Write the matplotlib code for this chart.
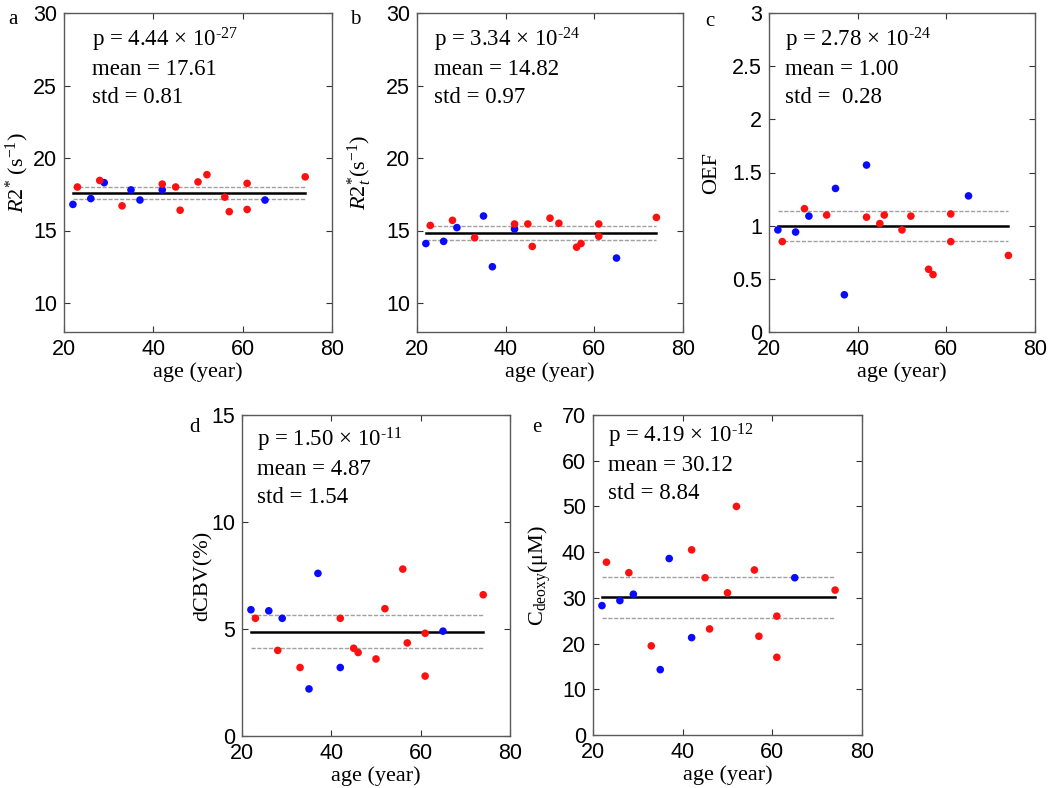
#!/usr/bin/env python3

import matplotlib
matplotlib.use("Agg")
import matplotlib.pyplot as plt

# subject ages (blue / red groups)
blue_age = [22, 26, 29, 35, 37, 42, 65]
red_age = [23, 28, 33, 42, 45, 46, 50, 52, 56, 57, 61, 61, 74]

# panel a: R2*
a_blue = [16.8, 17.2, 18.3, 17.8, 17.1, 17.8, 17.1]
a_red = [18.0, 18.45, 16.7, 18.2, 18.0, 16.4, 18.35, 18.85, 17.3, 16.3, 18.25, 16.45, 18.7]

# panel b: R2t*
b_blue = [14.1, 14.25, 15.2, 16.0, 12.5, 15.1, 13.1]
b_red = [15.35, 15.7, 14.5, 15.45, 15.45, 13.9, 15.85, 15.5, 13.85, 14.1, 15.45, 14.6, 15.9]

# panel c: OEF
c_blue = [0.96, 0.94, 1.09, 1.35, 0.35, 1.57, 1.28]
c_red = [0.85, 1.16, 1.10, 1.08, 1.02, 1.10, 0.96, 1.09, 0.59, 0.54, 1.11, 0.85, 0.72]

# panel d: dCBV
d_blue = [5.9, 5.85, 5.5, 2.2, 7.6, 3.2, 4.9]
d_red = [5.5, 4.0, 3.2, 5.5, 4.1, 3.9, 3.6, 5.95, 7.8, 4.35, 4.8, 2.8, 6.6]

# panel e: Cdeoxy
e_blue = [28.3, 29.4, 30.8, 14.3, 38.6, 21.3, 34.4]
e_red = [37.8, 35.5, 19.5, 40.5, 34.4, 23.2, 31.1, 50.0, 36.1, 21.6, 26.0, 17.0, 31.7]

# stats printed in each panel
p_text = ["4.44", "3.34", "2.78", "1.50", "4.19"]
p_exp = ["-27", "-24", "-24", "-11", "-12"]
means = [17.61, 14.82, 1.00, 4.87, 30.12]
stds = [0.81, 0.97, 0.28, 1.54, 8.84]
std_text = ["std = 0.81", "std = 0.97", "std =  0.28", "std = 1.54", "std = 8.84"]

panel_tags = ["a", "b", "c", "d", "e"]
ylabels = [r"$\mathit{R2}^{*}$ (s$^{-1}$)", r"$\mathit{R2}^{*}_{t}$(s$^{-1}$)",
           "OEF", "dCBV(%)", r"C$_{\mathrm{deoxy}}$(μM)"]
ylims = [(8, 30), (8, 30), (0, 3), (0, 15), (0, 70)]
yticks = [[10, 15, 20, 25, 30], [10, 15, 20, 25, 30],
          [0, 0.5, 1, 1.5, 2, 2.5, 3], [0, 5, 10, 15],
          [0, 10, 20, 30, 40, 50, 60, 70]]
ytick_labels = [["10", "15", "20", "25", "30"], ["10", "15", "20", "25", "30"],
                ["0", "0.5", "1", "1.5", "2", "2.5", "3"], ["0", "5", "10", "15"],
                ["0", "10", "20", "30", "40", "50", "60", "70"]]

blues = [a_blue, b_blue, c_blue, d_blue, e_blue]
reds = [a_red, b_red, c_red, d_red, e_red]

plt.rcParams["mathtext.fontset"] = "custom"
plt.rcParams["mathtext.rm"] = "Liberation Serif"
plt.rcParams["mathtext.it"] = "Liberation Serif:italic"
plt.rcParams["font.family"] = "Liberation Sans"

SERIF = "Liberation Serif"
W, H = 1050, 788
fig = plt.figure(figsize=(W / 100, H / 100), dpi=100)

# axes boxes in pixels: left, top, right, bottom
boxes = [(64, 13, 332, 332), (417, 13, 683, 332), (769, 13, 1035, 332),
         (242, 415, 510, 736), (593, 415, 862, 735)]
text_x = [28, 17, 16, 15, 15]      # px from axes left
text_y0 = [34, 34, 34, 32, 28]     # px from axes top (first baseline)
tag_pos = [(13, 20), (355, 19), (710, 21), (195, 427), (537, 428)]
ylabel_x = [17, 360, 712, 203, 540]   # px, centre of the y label

for i in range(5):
    l, t, r, b = boxes[i]
    ax = fig.add_axes([l / W, 1 - b / H, (r - l) / W, (b - t) / H])
    ax.set_xlim(20, 80)
    ax.set_ylim(*ylims[i])
    ax.set_xticks([20, 40, 60, 80])
    ax.set_yticks(yticks[i])
    ax.set_yticklabels(ytick_labels[i])
    ax.tick_params(direction="in", top=True, right=True, length=4,
                   labelsize=15.5, color="#333333", pad=5)
    for sp in ax.spines.values():
        sp.set_color("#5a5a5a")
        sp.set_linewidth(1.0)

    x_lo, x_hi = min(blue_age + red_age), max(blue_age + red_age)
    m, s = means[i], stds[i]
    ax.plot([x_lo, x_hi], [m + s / 2, m + s / 2], color="#a0a0a0",
            linestyle=(0, (3, 1.2)), linewidth=1.0, zorder=1)
    ax.plot([x_lo, x_hi], [m - s / 2, m - s / 2], color="#a0a0a0",
            linestyle=(0, (3, 1.2)), linewidth=1.0, zorder=1)
    ax.plot([x_lo, x_hi], [m, m], color="black", linewidth=1.8, zorder=2)

    ax.scatter(blue_age, blues[i], s=30, color="#0a0aff", edgecolors="none", zorder=3)
    ax.scatter(red_age, reds[i], s=30, color="#ff1010", edgecolors="none", zorder=3)

    ax.set_xlabel("age (year)", fontfamily=SERIF, fontsize=16, labelpad=2)
    ax.set_ylabel(ylabels[i], fontfamily=SERIF, fontsize=16, va="center")
    ax.yaxis.set_label_coords((ylabel_x[i] - l) / (r - l), 0.5)

    hpx = b - t
    tx = text_x[i] / (r - l)
    sup = p_exp[i].replace("-", "\u2010")
    lines = [f"p = {p_text[i]} × 10$^{{{sup}}}$",
             f"mean = {means[i]:.2f}", std_text[i]]
    for k, line in enumerate(lines):
        ty = 1 - (text_y0[i] + 28 * k) / hpx
        ax.text(tx, ty, line, transform=ax.transAxes, fontfamily=SERIF,
                fontsize=16.5, va="baseline", ha="left")

    fig.text(tag_pos[i][0] / W, 1 - tag_pos[i][1] / H, panel_tags[i],
             fontfamily=SERIF, fontsize=15, ha="center", va="center")

fig.savefig("out.png", dpi=100)
print("Saved plot to out.png")
